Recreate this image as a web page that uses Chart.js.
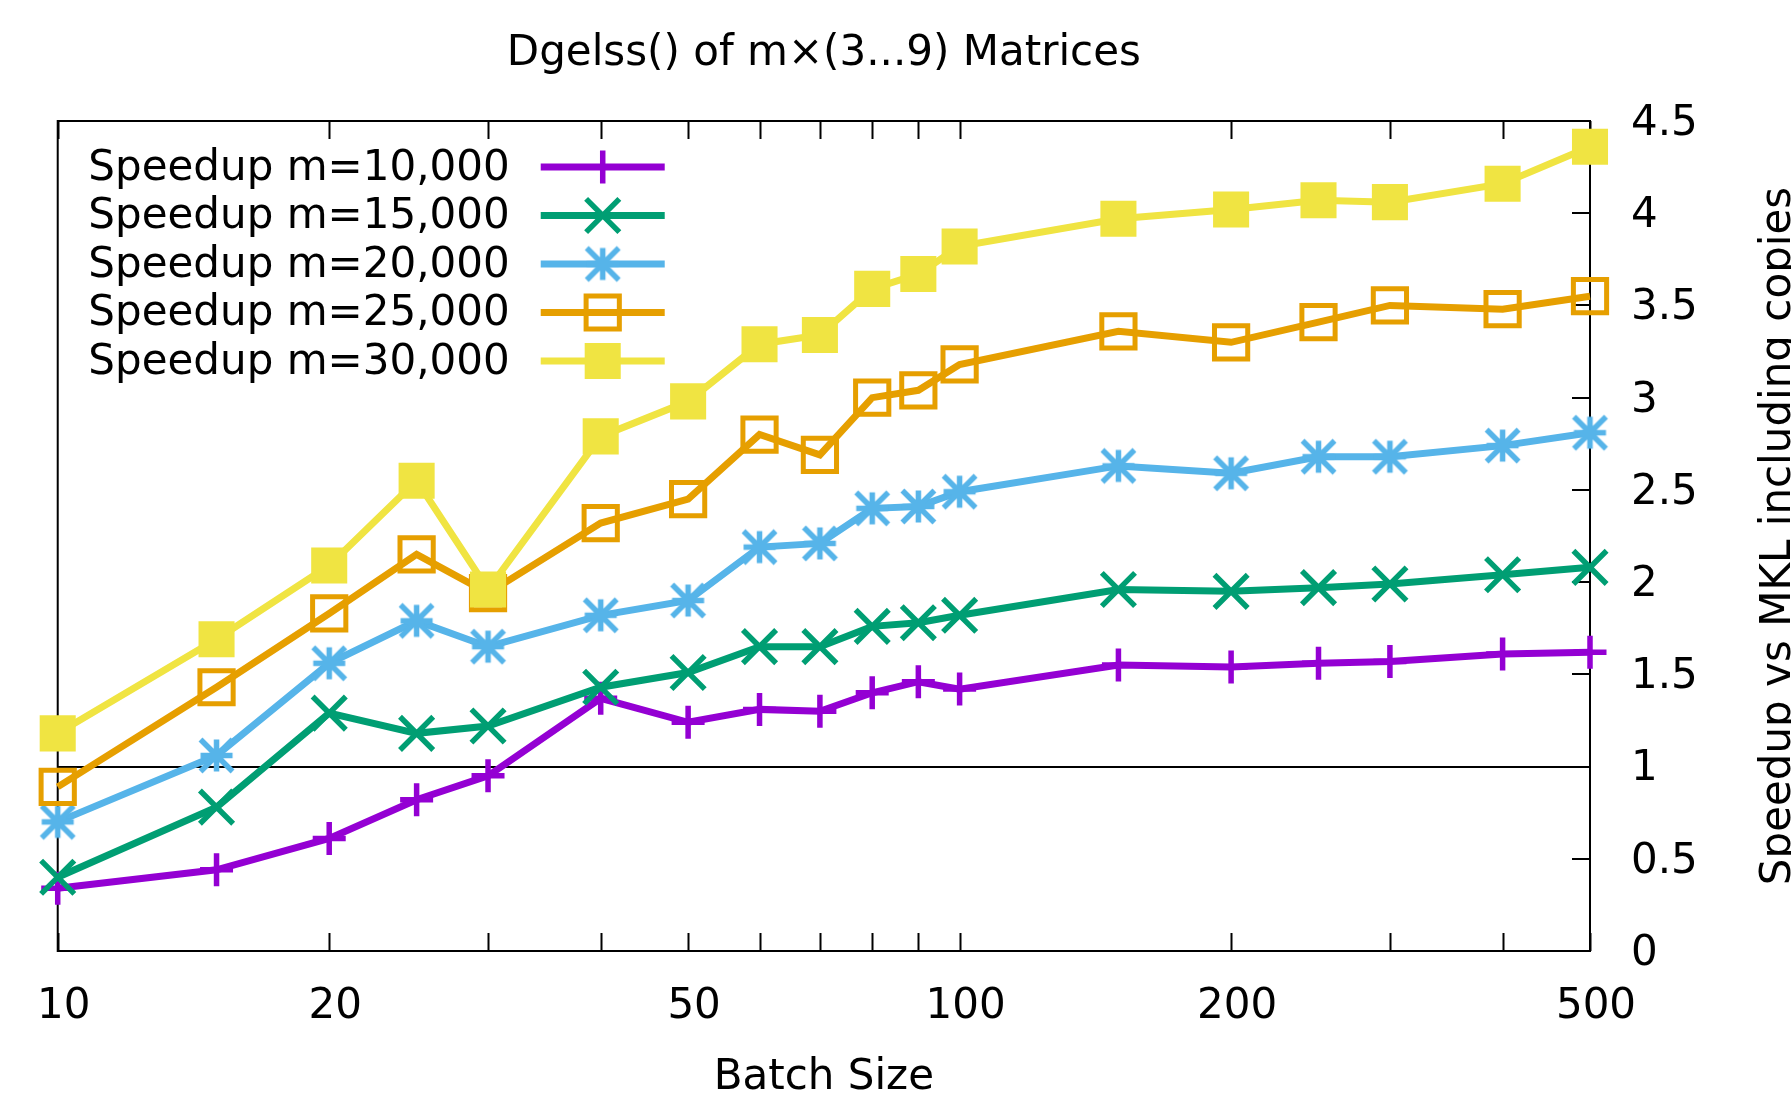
<!DOCTYPE html>
<html>
<head>
<meta charset="utf-8">
<title>Dgelss() of m×(3...9) Matrices</title>
<script src="https://cdn.jsdelivr.net/npm/chart.js@4.4.1/dist/chart.umd.min.js"></script>
<style>
    html, body { margin: 0; padding: 0; background: #fff; }
    .chart-wrap { width: 1791px; height: 1099px; }
</style>
</head>
<body>
<div class="chart-wrap"><canvas id="speedupChart"></canvas></div>
<script>
// Chart Data
const batchSizes = [10, 15, 20, 25, 30, 40, 50, 60, 70, 80, 90, 100, 150, 200, 250, 300, 400, 500];
const speedupM10k = [0.34, 0.44, 0.61, 0.82, 0.95, 1.37, 1.24, 1.31, 1.30, 1.40, 1.46, 1.42, 1.55, 1.54, 1.56, 1.57, 1.61, 1.62];
const speedupM15k = [0.40, 0.78, 1.29, 1.18, 1.22, 1.43, 1.51, 1.65, 1.65, 1.76, 1.78, 1.82, 1.96, 1.95, 1.97, 1.99, 2.04, 2.08];
const speedupM20k = [0.70, 1.06, 1.56, 1.79, 1.65, 1.82, 1.90, 2.19, 2.21, 2.40, 2.41, 2.49, 2.63, 2.59, 2.68, 2.68, 2.74, 2.81];
const speedupM25k = [0.89, 1.43, 1.83, 2.15, 1.94, 2.32, 2.45, 2.80, 2.69, 3.00, 3.04, 3.18, 3.36, 3.30, 3.41, 3.50, 3.48, 3.55];
const speedupM30k = [1.18, 1.69, 2.09, 2.55, 1.96, 2.79, 2.98, 3.29, 3.34, 3.59, 3.67, 3.82, 3.97, 4.02, 4.07, 4.06, 4.16, 4.36];
const seriesLabels = ['Speedup m=10,000', 'Speedup m=15,000', 'Speedup m=20,000', 'Speedup m=25,000', 'Speedup m=30,000'];
const xTickValues = [10, 20, 30, 40, 50, 60, 70, 80, 90, 100, 200, 300, 400, 500];
const xTickLabels = [10, 20, 50, 100, 200, 500];
const yTickValues = [0, 0.5, 1, 1.5, 2, 2.5, 3, 3.5, 4, 4.5];

const FONT = '"DejaVu Sans"';
Chart.defaults.font.family = FONT;
Chart.defaults.font.size = 42;
Chart.defaults.color = '#000';

// gnuplot style asterisk (+ and x of equal extent)
function makeStar(color, half, lw) {
    const c = document.createElement('canvas');
    const s = Math.ceil(half * 2 + lw * 2);
    c.width = s;
    c.height = s;
    const g = c.getContext('2d');
    const m = s / 2;
    g.strokeStyle = color;
    g.lineWidth = lw;
    g.beginPath();
    g.moveTo(m - half, m); g.lineTo(m + half, m);
    g.moveTo(m, m - half); g.lineTo(m, m + half);
    g.moveTo(m - half, m - half); g.lineTo(m + half, m + half);
    g.moveTo(m - half, m + half); g.lineTo(m + half, m - half);
    g.stroke();
    return c;
}

function toPoints(values) {
    return batchSizes.map((x, i) => ({ x: x, y: values[i] }));
}

function series(label, values, color, style, radius, pbw, fillPoint, order) {
    return {
        label: label,
        data: toPoints(values),
        borderColor: color,
        backgroundColor: color,
        borderWidth: 7,
        tension: 0,
        fill: false,
        clip: false,
        order: order,
        pointStyle: style,
        pointRadius: radius,
        pointHoverRadius: radius,
        pointBorderWidth: pbw,
        pointHoverBorderWidth: pbw,
        pointBorderColor: color,
        pointBackgroundColor: fillPoint ? color : 'rgba(0,0,0,0)'
    };
}

const datasets = [
    series(seriesLabels[0], speedupM10k, '#9400d3', 'cross', 16.5, 5.5, false, 5),
    series(seriesLabels[1], speedupM15k, '#009e73', 'crossRot', 23.5, 5.5, false, 4),
    series(seriesLabels[2], speedupM20k, '#56b4e9', makeStar('#56b4e9', 16, 5.5), 16, 0, false, 3),
    series(seriesLabels[3], speedupM25k, '#e69f00', 'rect', 23.5, 5, false, 2),
    series(seriesLabels[4], speedupM30k, '#f0e442', 'rect', 25.5, 0, true, 1)
];

// border, inward ticks and the y=1 reference line
const framePlugin = {
    id: 'frame',
    beforeDatasetsDraw(chart) {
        const { ctx, chartArea: a, scales } = chart;
        const tick = 18;
        ctx.save();
        ctx.strokeStyle = '#000';
        ctx.lineWidth = 2;
        ctx.beginPath();
        xTickValues.forEach(v => {
            const px = Math.round(scales.x.getPixelForValue(v)) + 0.5;
            ctx.moveTo(px, a.bottom); ctx.lineTo(px, a.bottom - tick);
            ctx.moveTo(px, a.top); ctx.lineTo(px, a.top + tick);
        });
        yTickValues.forEach(v => {
            const py = Math.round(scales.y.getPixelForValue(v));
            ctx.moveTo(a.right, py); ctx.lineTo(a.right - tick, py);
        });
        const y1 = Math.round(scales.y.getPixelForValue(1));
        ctx.moveTo(a.left, y1); ctx.lineTo(a.right, y1);
        ctx.stroke();
        ctx.strokeRect(a.left, a.top, a.right - a.left, a.bottom - a.top);
        ctx.restore();
    }
};

// gnuplot style key and right axis title
const keyPlugin = {
    id: 'key',
    afterDraw(chart) {
        const { ctx, chartArea: a } = chart;
        ctx.save();
        ctx.font = '42px ' + FONT;
        ctx.textAlign = 'right';
        ctx.textBaseline = 'middle';
        chart.data.datasets.forEach((ds, i) => {
            const y = a.top + 46 + i * 48.5;
            ctx.fillStyle = '#000';
            ctx.fillText(ds.label, a.left + 452, y + 2);
            ctx.strokeStyle = ds.borderColor;
            ctx.lineWidth = ds.borderWidth;
            ctx.beginPath();
            ctx.moveTo(a.left + 483, y);
            ctx.lineTo(a.left + 607, y);
            ctx.stroke();
            ctx.strokeStyle = ds.pointBorderColor;
            ctx.fillStyle = ds.pointBackgroundColor;
            ctx.lineWidth = ds.pointBorderWidth;
            Chart.helpers.drawPoint(ctx, {
                pointStyle: ds.pointStyle,
                radius: ds.pointRadius,
                borderWidth: ds.pointBorderWidth,
                rotation: 0
            }, a.left + 545, y);
        });
        ctx.fillStyle = '#000';
        ctx.textAlign = 'center';
        ctx.textBaseline = 'alphabetic';
        ctx.translate(1790, (a.top + a.bottom) / 2);
        ctx.rotate(-Math.PI / 2);
        ctx.fillText('Speedup vs MKL including copies', 0, 0);
        ctx.restore();
    }
};

const speedupCtx = document.getElementById('speedupChart').getContext('2d');
new Chart(speedupCtx, {
    type: 'line',
    data: { datasets: datasets },
    options: {
        responsive: true,
        maintainAspectRatio: false,
        animation: false,
        layout: {
            padding: { left: 57, top: 0, right: 0, bottom: 0 }
        },
        plugins: {
            legend: { display: false },
            tooltip: { enabled: false },
            title: {
                display: true,
                text: 'Dgelss() of m×(3...9) Matrices',
                fullSize: false,
                font: { size: 42, weight: 'normal' },
                color: '#000',
                padding: { top: 29, bottom: 41.6 }
            }
        },
        scales: {
            x: {
                type: 'logarithmic',
                position: 'bottom',
                min: 10,
                max: 500,
                grid: { display: false, drawTicks: false },
                border: { display: false },
                afterBuildTicks(scale) {
                    scale.ticks = xTickValues.map(v => ({ value: v }));
                },
                afterFit(scale) {
                    scale.height = 148;
                },
                ticks: {
                    autoSkip: false,
                    maxRotation: 0,
                    padding: 31,
                    labelOffset: 6,
                    callback: (value) => xTickLabels.includes(value) ? String(value) : ''
                },
                title: {
                    display: true,
                    text: 'Batch Size',
                    font: { size: 42, lineHeight: 1.0 },
                    padding: { top: 0, bottom: 0 }
                }
            },
            y: {
                type: 'linear',
                position: 'right',
                min: 0,
                max: 4.5,
                grid: { display: false, drawTicks: false },
                border: { display: false },
                afterBuildTicks(scale) {
                    scale.ticks = yTickValues.map(v => ({ value: v }));
                },
                afterFit(scale) {
                    scale.width = 201;
                },
                ticks: {
                    padding: 41,
                    labelOffset: 3,
                    callback: (value) => String(value)
                }
            }
        }
    },
    plugins: [framePlugin, keyPlugin]
});
</script>
</body>
</html>
